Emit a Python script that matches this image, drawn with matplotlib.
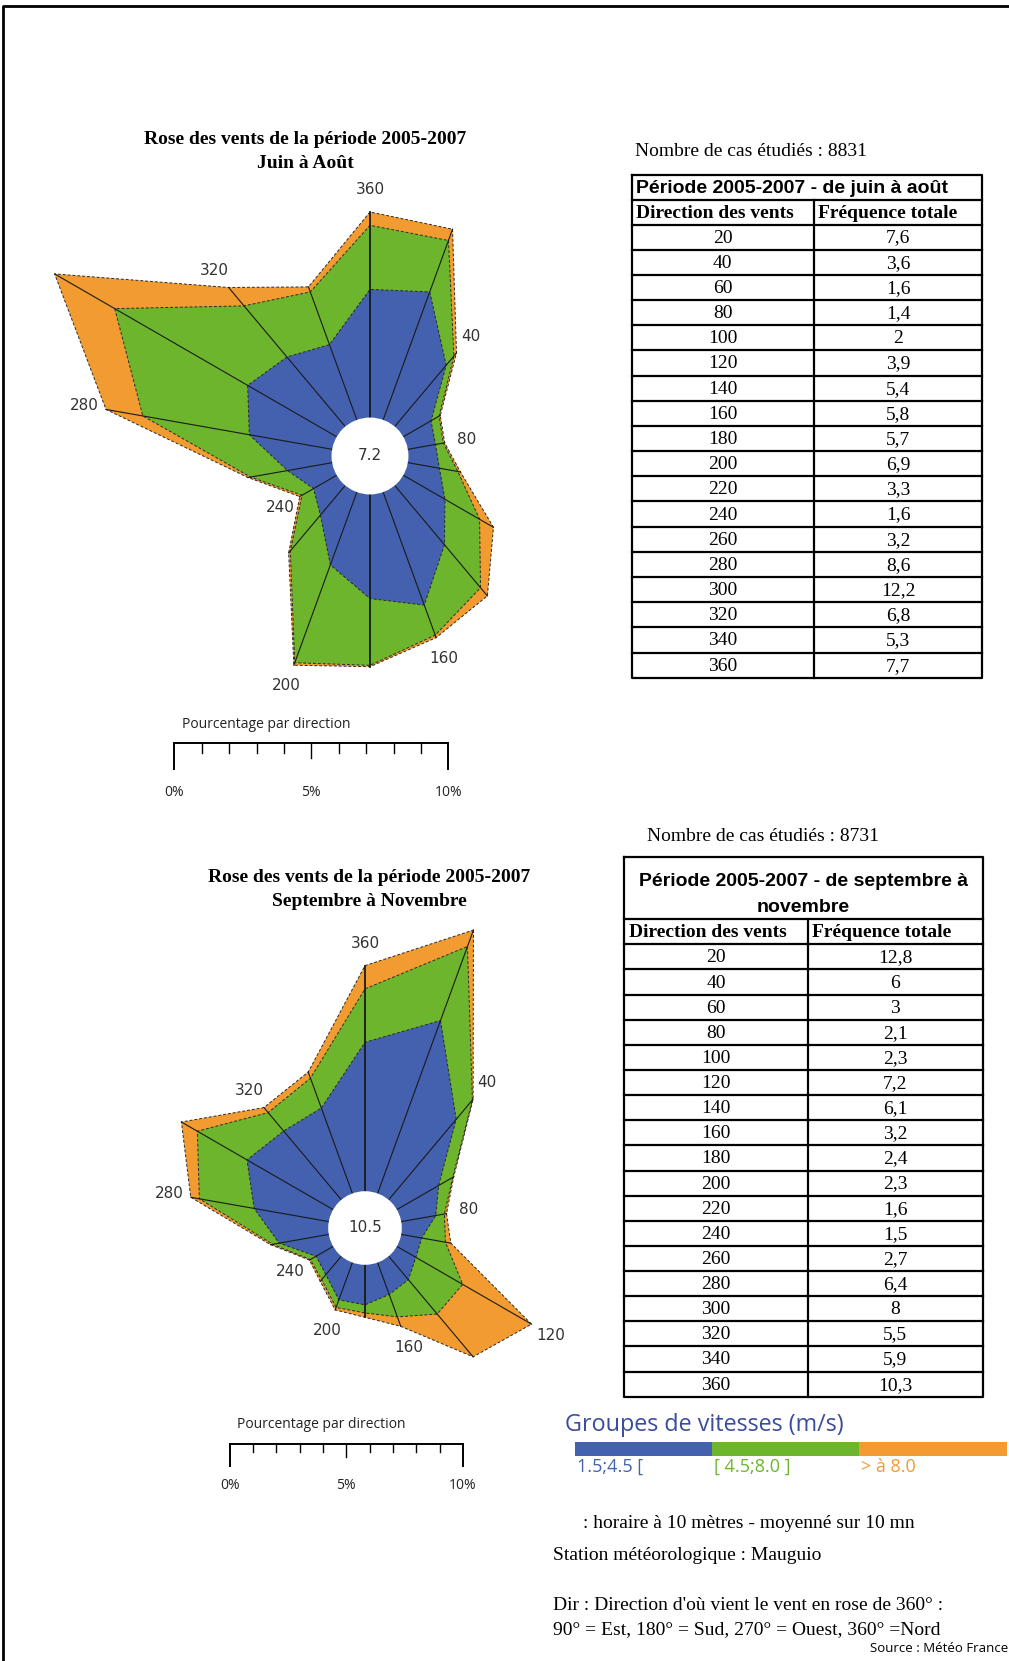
import matplotlib
matplotlib.use("Agg")
import matplotlib.pyplot as plt
import numpy as np
from matplotlib.patches import Circle, Rectangle

W, H = 1009, 1661

DIRECTIONS = list(range(20, 361, 20))

# Rose juin-août : valeurs cumulées (%), par classe de vitesse
JJA_BLUE = [5.1, 3.0, 1.2, 1.05, 1.2, 1.8, 2.9, 4.5, 3.9, 2.9, 1.45, 1.0, 1.7, 3.15, 3.85, 3.4, 3.0, 4.8]
JJA_GREEN = [7.15, 3.45, 1.55, 1.35, 1.9, 3.3, 5.0, 5.7, 6.4, 6.8, 3.2, 1.5, 3.1, 7.2, 9.6, 5.9, 5.1, 7.2]
JJA_TOTAL = [7.6, 3.6, 1.6, 1.4, 2.0, 3.9, 5.4, 5.8, 6.45, 6.9, 3.3, 1.6, 3.2, 8.6, 12.2, 6.8, 5.3, 7.7]
JJA_CALM = "7.2"
JJA_LABELLED = [360, 40, 80, 160, 200, 240, 280, 320]

# Rose septembre-novembre
SON_BLUE = [8.4, 4.8, 2.2, 1.6, 0.95, 1.0, 1.4, 1.55, 1.83, 1.81, 1.1, 0.9, 2.3, 3.46, 4.54, 4.1, 4.15, 6.8]
SON_GREEN = [12.0, 5.95, 2.95, 2.0, 2.05, 3.47, 3.45, 2.64, 2.2, 2.18, 1.4, 1.2, 2.6, 6.0, 7.16, 5.2, 5.6, 9.24]
SON_TOTAL = [12.8, 6.0, 3.0, 2.1, 2.3, 7.1, 6.0, 3.1, 2.4, 2.3, 1.5, 1.25, 2.7, 6.4, 8.0, 5.5, 5.9, 10.3]
SON_CALM = "10.5"
SON_LABELLED = [360, 40, 80, 120, 160, 200, 240, 280, 320]

# Tableaux de fréquences
JJA_FREQ = ["7,6", "3,6", "1,6", "1,4", "2", "3,9", "5,4", "5,8", "5,7",
            "6,9", "3,3", "1,6", "3,2", "8,6", "12,2", "6,8", "5,3", "7,7"]
SON_FREQ = ["12,8", "6", "3", "2,1", "2,3", "7,2", "6,1", "3,2", "2,4",
            "2,3", "1,6", "1,5", "2,7", "6,4", "8", "5,5", "5,9", "10,3"]
JJA_CASES = 8831
SON_CASES = 8731

SPEED_GROUPS = ["1.5;4.5 [", "[ 4.5;8.0 ]", "> à 8.0"]
COLORS = ["#4361ae", "#6db52c", "#f29b31"]

SERIF = "Liberation Serif"
ARIAL = "Liberation Sans"
SANS = "DejaVu Sans"
MYRIAD = "Open Sans"

fig = plt.figure(figsize=(W / 100, H / 100), dpi=100)
fig.patch.set_facecolor("white")

# calque en pixels pour cadres, tableaux, échelles et légende
bg = fig.add_axes([0, 0, 1, 1])
bg.set_xlim(0, W)
bg.set_ylim(H, 0)
bg.axis("off")


def px_box(x0, y0, x1, y1):
    return [x0 / W, 1 - y1 / H, (x1 - x0) / W, (y1 - y0) / H]


def draw_rose(cx, cy, k, r0, layers, calm, labelled):
    R = 14
    ax = fig.add_axes(px_box(cx - R * k, cy - R * k, cx + R * k, cy + R * k))
    ax.set_xlim(-R, R)
    ax.set_ylim(-R, R)
    ax.axis("off")
    theta = np.deg2rad(DIRECTIONS)
    for vals, color in zip(layers[::-1], COLORS[::-1]):
        r = r0 + np.asarray(vals)
        xs, ys = r * np.sin(theta), r * np.cos(theta)
        ax.fill(xs, ys, color=color, lw=0, zorder=1)
        ax.plot(np.append(xs, xs[0]), np.append(ys, ys[0]), color="#2a2a2a",
                lw=0.7, ls=(0, (3, 2)), zorder=2)
    total = r0 + np.asarray(layers[-1])
    for t, rt, d in zip(theta, total, DIRECTIONS):
        lw = 1.3 if d in (180, 360) else 0.8
        ax.plot([r0 * np.sin(t), rt * np.sin(t)], [r0 * np.cos(t), rt * np.cos(t)],
                color="#1a1a1a", lw=lw, zorder=3)
        if d in labelled:
            rl = rt + 22 / k
            ax.text(rl * np.sin(t), rl * np.cos(t), str(d), ha="center", va="center",
                    fontsize=11, family=SANS, color="#333333")
    ax.add_patch(Circle((0, 0), r0, facecolor="white", edgecolor="none", zorder=4))
    ax.text(0, 0, calm, ha="center", va="center", fontsize=11, family=SANS,
            color="#333333", zorder=5)


def draw_scale(x0, y, k10):
    f = k10 / 274
    k = k10 / 10
    bg.plot([x0, x0 + k10], [y, y], color="black", lw=1.4)
    for i in range(11):
        ln = 26 if i in (0, 10) else (15 if i == 5 else 9.5)
        bg.plot([x0 + i * k] * 2, [y, y + ln * f], color="black", lw=1.4 if i in (0, 10) else 1.0)
    bg.text(x0 + 8 * f, y - 19, "Pourcentage par direction", ha="left", va="center",
            fontsize=10, family=MYRIAD, color="#222222")
    for i, lab in [(0, "0%"), (5, "5%"), (10, "10%")]:
        bg.text(x0 + i * k, y + 49 * f, lab, ha="center", va="center",
                fontsize=10, family=MYRIAD, color="#222222")


def draw_table(left, right, top, title_bottom, head_bottom, bottom, divider,
               title_lines, title_ys, title_center, freqs):
    lw = 1.6
    bg.plot([left, right, right, left, left], [top, top, bottom, bottom, top], color="black", lw=lw)
    bg.plot([left, right], [title_bottom] * 2, color="black", lw=lw)
    bg.plot([left, right], [head_bottom] * 2, color="black", lw=lw)
    bg.plot([divider] * 2, [title_bottom, bottom], color="black", lw=lw)
    n = len(freqs)
    rh = (bottom - head_bottom) / n
    for i in range(1, n):
        bg.plot([left, right], [head_bottom + i * rh] * 2, color="black", lw=lw)
    for line, yt in zip(title_lines, title_ys):
        if title_center:
            bg.text((left + right) / 2, yt, line, ha="center", va="center", fontsize=14,
                    family=ARIAL, weight="bold")
        else:
            bg.text(left + 4, yt, line, ha="left", va="center", fontsize=14,
                    family=ARIAL, weight="bold")
    yh = (title_bottom + head_bottom) / 2 + 1
    bg.text(left + 5, yh, "Direction des vents", ha="left", va="center", fontsize=14,
            family=SERIF, weight="bold")
    bg.text(divider + 4, yh, "Fréquence totale", ha="left", va="center", fontsize=14,
            family=SERIF, weight="bold")
    for i, (d, f) in enumerate(zip(DIRECTIONS, freqs)):
        yc = head_bottom + (i + 0.5) * rh + 1
        bg.text((left + divider) / 2, yc, str(d), ha="center", va="center", fontsize=14, family=SERIF)
        bg.text((divider + right) / 2, yc, f, ha="center", va="center", fontsize=14, family=SERIF)


# cadre
bg.plot([3, 3, W], [H, 6, 6], color="black", lw=2)

# --- Rose juin-août ---
bg.text(305, 140, "Rose des vents de la période 2005-2007", ha="center", va="center",
        fontsize=14, family=SERIF, weight="bold")
bg.text(305, 164, "Juin à Août", ha="center", va="center", fontsize=14, family=SERIF, weight="bold")
draw_rose(370, 456, 26.7, 1.44, [JJA_BLUE, JJA_GREEN, JJA_TOTAL], JJA_CALM, JJA_LABELLED)
draw_scale(174.3, 743.3, 274)

bg.text(635, 151, f"Nombre de cas étudiés : {JJA_CASES}", ha="left", va="center",
        fontsize=14, family=SERIF)
draw_table(631.5, 982, 174.7, 200, 224.5, 677.7, 814,
           ["Période 2005-2007 - de juin à août"], [188.5], False, JJA_FREQ)

# --- Rose septembre-novembre ---
bg.text(369.5, 877, "Rose des vents de la période 2005-2007", ha="center", va="center",
        fontsize=14, family=SERIF, weight="bold")
bg.text(369.5, 901, "Septembre à Novembre", ha="center", va="center", fontsize=14,
        family=SERIF, weight="bold")
draw_rose(365, 1228, 21.9, 1.68, [SON_BLUE, SON_GREEN, SON_TOTAL], SON_CALM, SON_LABELLED)
draw_scale(229.8, 1444, 233)

bg.text(647, 836.5, f"Nombre de cas étudiés : {SON_CASES}", ha="left", va="center",
        fontsize=14, family=SERIF)
draw_table(624, 982.7, 856.7, 919, 944.3, 1396.7, 808,
           ["Période 2005-2007 - de septembre à", "novembre"], [882, 908], True, SON_FREQ)

# --- Légende des vitesses ---
bg.text(565, 1425, "Groupes de vitesses (m/s)", ha="left", va="center", fontsize=16.8,
        family=MYRIAD, color="#3b4c9c")
edges = [575, 711.7, 859.3, 1006.7]
for i, (lab, col) in enumerate(zip(SPEED_GROUPS, COLORS)):
    bg.add_patch(Rectangle((edges[i], 1442.3), edges[i + 1] - edges[i], 13.7,
                           facecolor=col, edgecolor="none"))
    bg.text(edges[i] + 2, 1467, lab, ha="left", va="center", fontsize=13, family=MYRIAD, color=col)

bg.text(583, 1523, ": horaire à 10 mètres - moyenné sur 10 mn", ha="left", va="center",
        fontsize=14, family=SERIF)
bg.text(553, 1555, "Station météorologique : Mauguio", ha="left", va="center",
        fontsize=14, family=SERIF)
bg.text(553, 1605, "Dir : Direction d'où vient le vent en rose de 360° :", ha="left", va="center",
        fontsize=14, family=SERIF)
bg.text(553, 1629.5, "90° = Est, 180° = Sud, 270° = Ouest, 360° =Nord", ha="left", va="center",
        fontsize=14, family=SERIF)
bg.text(1008, 1649, "Source : Météo France", ha="right", va="center", fontsize=9.5, family=MYRIAD)

plt.savefig("out.png", dpi=100)
plt.close()
